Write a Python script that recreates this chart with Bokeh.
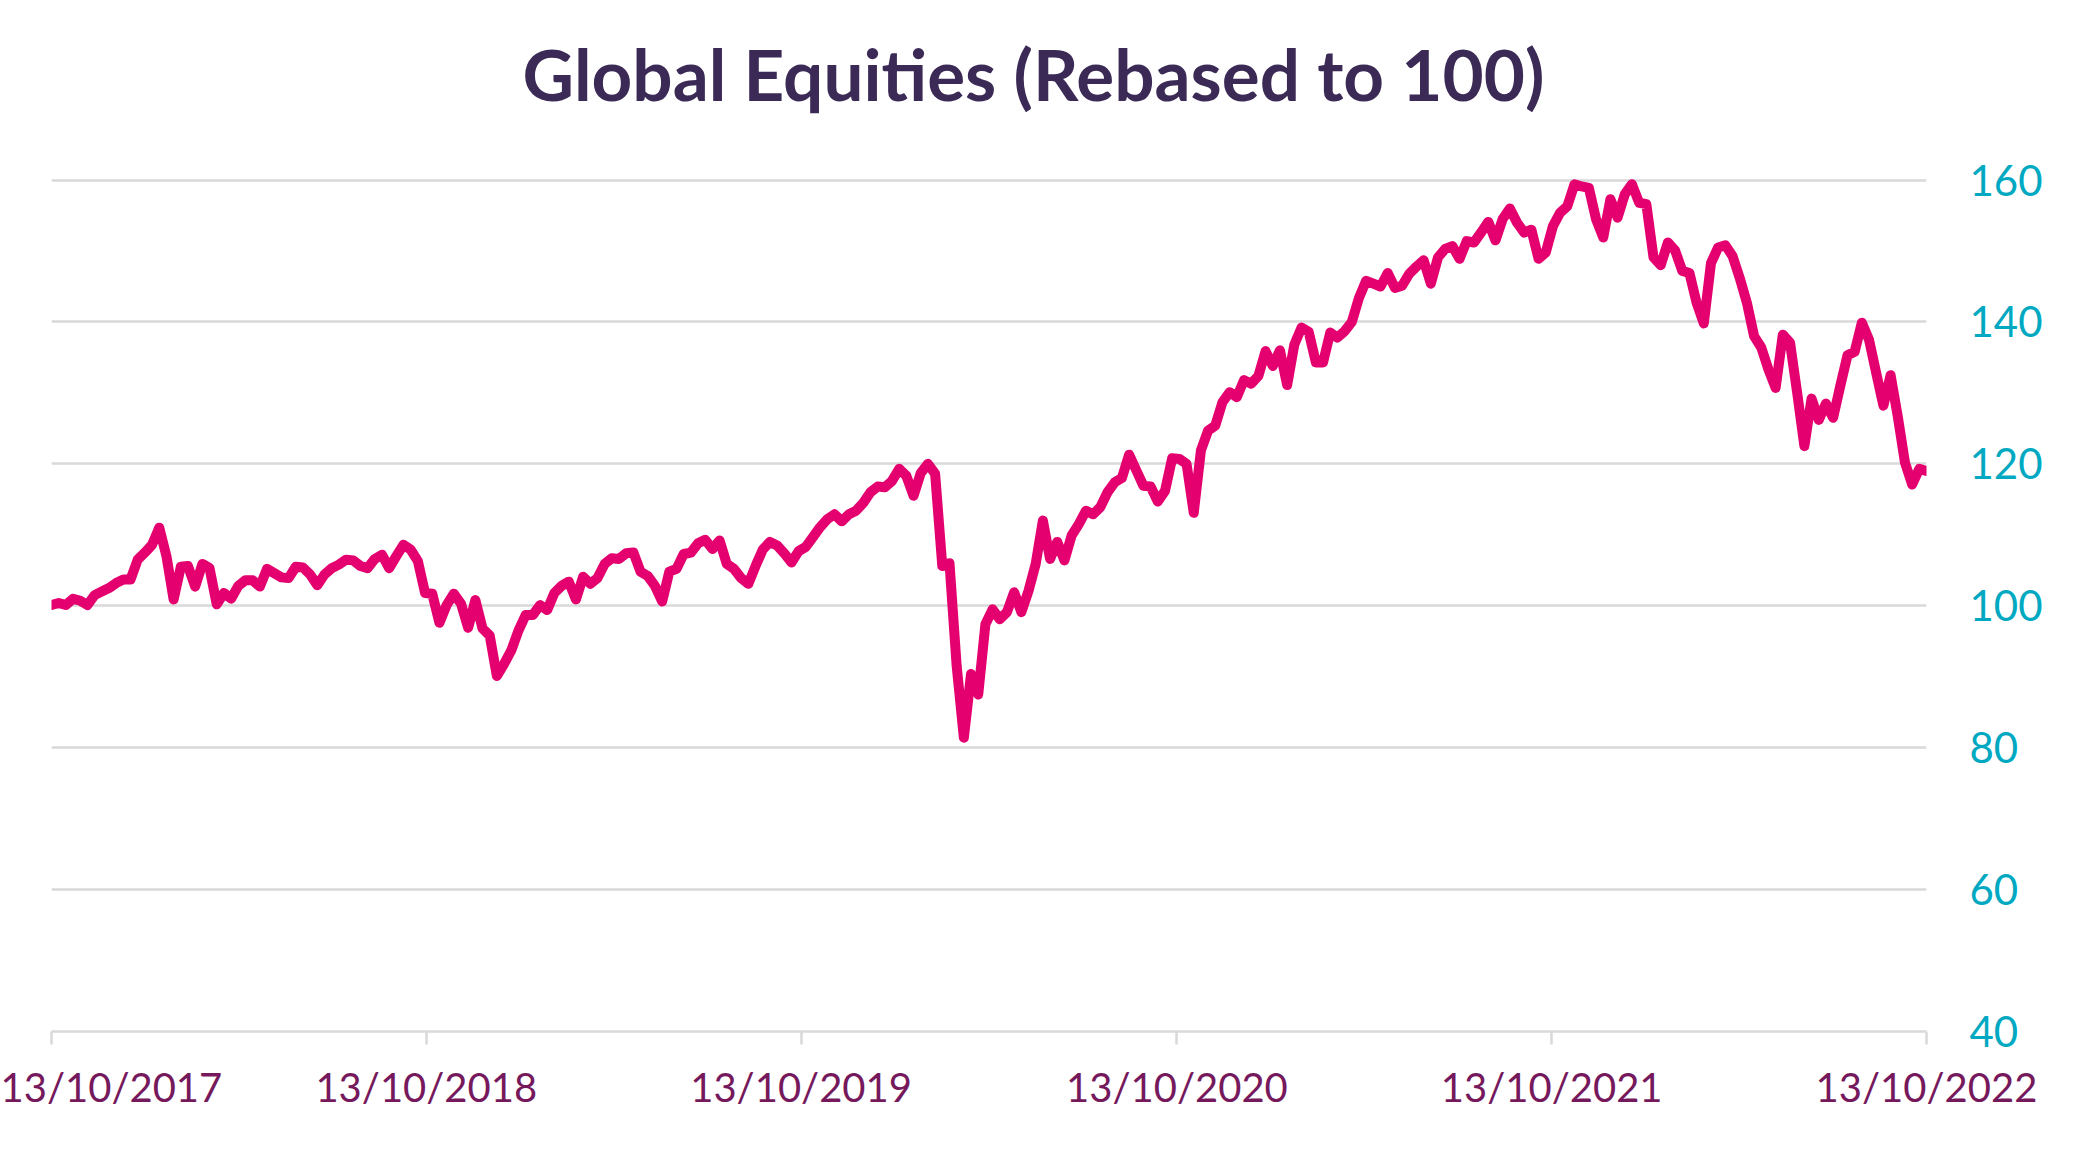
import pandas as pd
from bokeh.plotting import figure
from bokeh.models import Range1d, FixedTicker, DatetimeTickFormatter, Title, ColumnDataSource
from bokeh.embed import file_html
from bokeh.resources import INLINE

START = "2017-10-13"
END = "2022-10-13"
tick_dates = ["2017-10-13", "2018-10-13", "2019-10-13", "2020-10-13", "2021-10-13", "2022-10-13"]
y_ticks = [40, 60, 80, 100, 120, 140, 160]
TITLE = "Global Equities (Rebased to 100)"

# Weekly index values (rebased to 100)
values_2017_2018 = [
    100.1, 100.4, 100.1, 101.0, 100.7, 100.1, 101.5, 102.0, 102.5, 103.2,
    103.7, 103.7, 106.5, 107.5, 108.6, 111.0, 107.0, 100.9, 105.5, 105.6,
    102.7, 105.9, 105.3, 100.2, 101.8, 101.0, 102.8, 103.6, 103.6, 102.7,
    105.2, 104.6, 104.0, 103.9, 105.5, 105.4, 104.4, 102.9, 104.4, 105.3,
    105.8, 106.5, 106.4, 105.6, 105.3, 106.6, 107.2, 105.3, 107.0, 108.6,
    107.9, 106.3, 101.8, 101.7, 97.6, 100.1, 101.7, 100.3, 96.9,
]
values_2018_2019 = [
    100.8, 96.8, 95.8, 90.1, 91.8, 93.7, 96.5, 98.7, 98.7, 100.1,
    99.4, 101.8, 102.8, 103.4, 100.9, 104.1, 103.1, 103.9, 105.9, 106.7,
    106.6, 107.4, 107.5, 104.8, 104.2, 102.8, 100.6, 104.8, 105.2, 107.3,
    107.5, 108.8, 109.3, 108.0, 109.2, 105.9, 105.2, 103.9, 103.1, 105.6,
    107.9, 109.0, 108.5, 107.4, 106.1, 107.7, 108.3, 109.7, 111.1, 112.2,
    112.9, 111.9, 112.9, 113.4, 114.5, 116.0, 116.8,
]
values_2019_2021 = [
    116.7, 117.6, 119.3, 118.3, 115.5, 118.7, 120.0, 118.6, 105.6, 106.0,
    91.5, 81.4, 90.4, 87.5, 97.4, 99.5, 98.1, 99.1, 101.9, 99.1,
    102.1, 105.9, 112.0, 106.6, 109.0, 106.4, 109.9, 111.5, 113.4, 112.9,
    113.9, 116.0, 117.4, 118.0, 121.3, 119.1, 116.9, 116.8, 114.7, 116.2,
    120.8, 120.7, 120.0, 113.1, 121.9, 124.7, 125.4, 128.7, 130.1, 129.4,
    131.8, 131.3,
]
values_2021_2022 = [
    132.4, 135.9, 133.8, 136.0, 131.1, 136.8, 139.2, 138.6, 134.3, 134.3,
    138.5, 137.8, 138.7, 140.0, 143.4, 145.8, 145.4, 145.0, 146.9, 144.8,
    145.1, 146.8, 147.8, 148.7, 145.4, 149.1, 150.3, 150.7, 148.9, 151.4,
    151.2, 152.6, 154.1, 151.5, 154.5, 156.0, 154.0, 152.6, 153.0, 148.9,
    149.8, 153.5, 155.4, 156.3, 159.4, 159.1, 158.9, 154.5, 151.9, 157.3,
    154.7, 158.0, 159.4, 156.8, 156.6, 149.1, 148.0, 151.2,
]
values_2022 = [
    150.1, 147.2, 146.9, 142.7, 139.8, 148.3, 150.5, 150.8, 149.3, 146.2,
    142.7, 138.0, 136.4, 133.3, 130.7, 138.2, 137.1, 130.0, 122.5, 129.2,
    126.2, 128.5, 126.5, 131.0, 135.3, 135.8, 139.9, 137.5, 132.8, 128.2,
    132.5, 126.7, 120.2, 117.1, 119.3, 119.0,
]
values = values_2017_2018 + values_2018_2019 + values_2019_2021 + values_2021_2022 + values_2022
dates = pd.date_range(START, END, periods=len(values))

src = ColumnDataSource(dict(date=dates, value=values))

Y0, Y1 = 40, 160.5
p = figure(
    width=2060, height=1134,
    x_axis_type="datetime", y_axis_location="right",
    x_range=Range1d(pd.Timestamp(START), pd.Timestamp(END)),
    y_range=Range1d(Y0, Y1),
    output_backend="svg", toolbar_location=None,
    min_border_left=51, min_border_right=134, min_border_top=176, min_border_bottom=103,
)
p.title = None
# spacer between plot area and title (closest to the frame), then the title
p.add_layout(Title(text=" ", text_font="Lato", text_font_size="40px", standoff=9), "above")
p.add_layout(Title(
    text=TITLE, text_font="Lato", text_font_style="bold", text_font_size="71px",
    text_color="#3b2a55", align="left", offset=471, vertical_align="top", standoff=0,
), "above")

p.outline_line_color = None
p.background_fill_color = "white"
p.border_fill_color = "white"

p.line("date", "value", source=src, line_color="#e4006e", line_width=10,
       line_join="round", line_cap="round")

# x axis
xa = p.xaxis[0]
xa.ticker = FixedTicker(ticks=[pd.Timestamp(d).value // 10**6 for d in tick_dates])
fmt = "%d/%m/%Y"
xa.formatter = DatetimeTickFormatter(
    milliseconds=fmt, seconds=fmt, minsec=fmt, minutes=fmt, hourmin=fmt,
    hours=fmt, days=fmt, months=fmt, years=fmt,
)
xa.axis_line_color = "#d9d9d9"
xa.axis_line_width = 2.5
xa.major_tick_line_color = "#d9d9d9"
xa.major_tick_line_width = 2.5
xa.major_tick_out = 13
xa.major_tick_in = 0
xa.minor_tick_line_color = None
xa.major_label_standoff = 18
xa.major_label_text_font = "Lato"
xa.major_label_text_font_size = "40px"
xa.major_label_text_color = "#76195c"

# y axis (right)
ya = p.yaxis[0]
ya.ticker = FixedTicker(ticks=y_ticks)
ya.axis_line_color = None
ya.major_tick_line_color = None
ya.minor_tick_line_color = None
ya.major_tick_out = 0
ya.major_tick_in = 0
ya.major_label_standoff = 43
ya.major_label_text_font = "Lato"
ya.major_label_text_font_size = "42px"
ya.major_label_text_color = "#00a9c1"

p.xgrid.grid_line_color = None
p.ygrid.grid_line_color = "#d9d9d9"
p.ygrid.grid_line_width = 2.5
p.ygrid.ticker = FixedTicker(ticks=y_ticks)

open("out.html", "w").write(file_html(p, INLINE))
